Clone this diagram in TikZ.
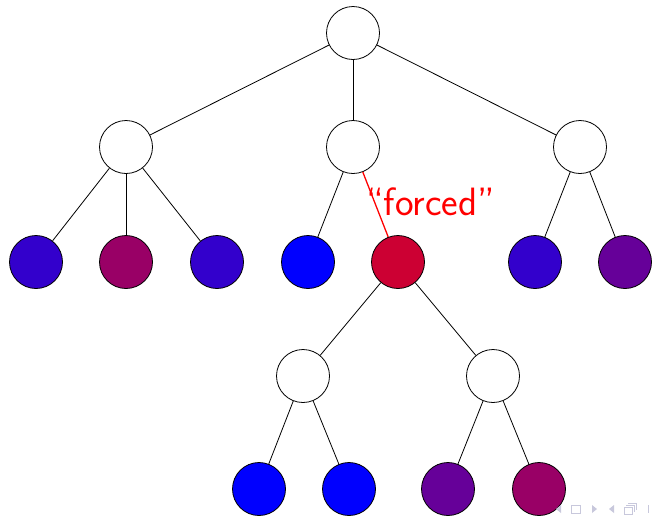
\documentclass[tikz,border=0pt]{standalone}
\usetikzlibrary{calc}
\definecolor{navgray}{RGB}{200,200,220}
\begin{document}
\begin{tikzpicture}[x=1pt,y=-1pt,
  vert/.style={circle,draw=black,line width=0.8pt,minimum size=53pt,inner sep=0pt},
  edge/.style={draw=black,line width=0.8pt},
  nav/.style={fill=navgray,draw=none}]
\useasboundingbox (0,0) rectangle (652,515);
% root
\node[vert,fill=white] (r) at (353,33) {};
% level 1
\node[vert,fill=white] (a) at (126,147) {};
\node[vert,fill=white] (b) at (353,147) {};
\node[vert,fill=white] (c) at (580,147) {};
% level 2
\node[vert,fill=blue!80!red] (a1) at (36,262) {};
\node[vert,fill=red!60!blue] (a2) at (126,262) {};
\node[vert,fill=blue!80!red] (a3) at (217,262) {};
\node[vert,fill=blue] (b1) at (308,262) {};
\node[vert,fill=red!80!blue] (b2) at (398,262) {};
\node[vert,fill=blue!80!red] (c1) at (535,262) {};
\node[vert,fill=red!40!blue] (c2) at (625,262) {};
% level 3
\node[vert,fill=white] (d) at (303,376) {};
\node[vert,fill=white] (e) at (493,376) {};
% level 4
\node[vert,fill=blue] (d1) at (259,489) {};
\node[vert,fill=blue] (d2) at (349,489) {};
\node[vert,fill=red!40!blue] (e1) at (448,489) {};
\node[vert,fill=red!60!blue] (e2) at (539,489) {};
% edges
\draw[edge] (r) -- (a);
\draw[edge] (r) -- (b);
\draw[edge] (r) -- (c);
\draw[edge] (a) -- (a1);
\draw[edge] (a) -- (a2);
\draw[edge] (a) -- (a3);
\draw[edge] (b) -- (b1);
\draw[draw=red,line width=1.3pt] (b) -- (b2);
\draw[edge] (c) -- (c1);
\draw[edge] (c) -- (c2);
\draw[edge] (b2) -- (d);
\draw[edge] (b2) -- (e);
\draw[edge] (d) -- (d1);
\draw[edge] (d) -- (d2);
\draw[edge] (e) -- (e1);
\draw[edge] (e) -- (e2);
% label
\node[text=red,font=\fontsize{39.5}{46}\selectfont\sffamily,anchor=base west,inner sep=0pt] (lbl) at (366,215) {``forced''};
% navigation symbols
\path[nav] (556,509) -- (561,505) -- (561,513) -- cycle;
\draw[navgray,line width=0.8pt] (571,505) rectangle (580,513);
\path[nav] (597,509) -- (592,505) -- (592,513) -- cycle;
\path[nav] (609,509) -- (614,505) -- (614,513) -- cycle;
\draw[navgray,line width=0.8pt] (624,507) rectangle (632,514);
\draw[navgray,line width=0.8pt] (626,505) -- (634,505) -- (634,512);
\draw[navgray,line width=0.8pt] (628,503) -- (636,503) -- (636,510);
\draw[navgray,line width=0.8pt] (648,505) -- (648,513);
\end{tikzpicture}
\end{document}
